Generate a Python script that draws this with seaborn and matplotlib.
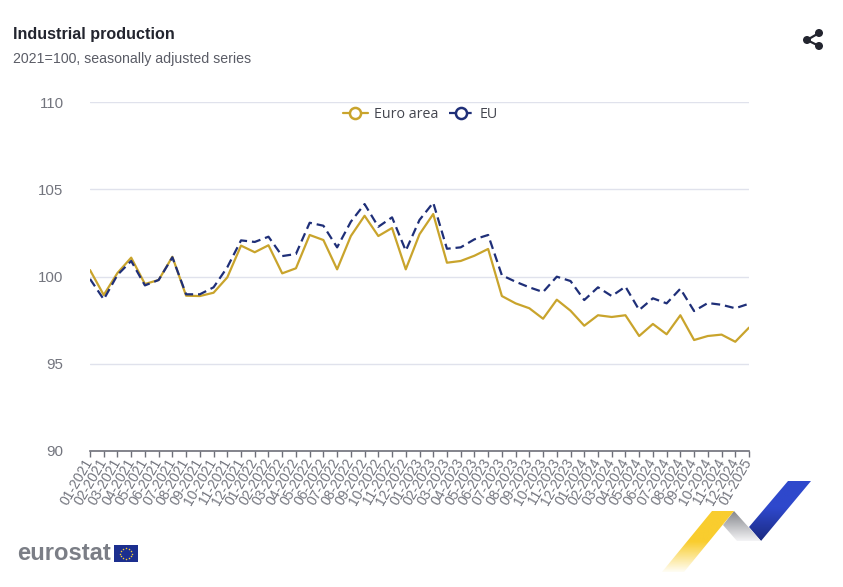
import matplotlib
matplotlib.use("Agg")
import matplotlib.pyplot as plt
from matplotlib.lines import Line2D
from matplotlib.patches import Circle, Polygon, Rectangle
import numpy as np
import pandas as pd
import seaborn as sns

W, H = 843, 587

months = [f"{m:02d}-{y}" for y in range(2021, 2025) for m in range(1, 13)] + ["01-2025"]

euro_area = [
    100.37, 98.94, 100.2, 101.08, 99.57, 99.8, 101.13, 98.9, 98.88, 99.07, 99.95, 101.77,
    101.39, 101.79, 100.18, 100.47, 102.38, 102.09, 100.41, 102.32, 103.48, 102.32, 102.78, 100.41,
    102.42, 103.58, 100.79, 100.89, 101.19, 101.58, 98.88, 98.46, 98.18, 97.58, 98.67, 98.04,
    97.18, 97.78, 97.68, 97.78, 96.59, 97.28, 96.69, 97.78, 96.36, 96.59, 96.67, 96.26,
    97.07,
]
eu = [
    99.86, 98.69, 100.09, 100.89, 99.49, 99.8, 101.1, 98.98, 98.98, 99.38, 100.53, 102.07,
    101.98, 102.28, 101.17, 101.29, 103.08, 102.91, 101.67, 103.14, 104.15, 102.85, 103.39, 101.48,
    103.24, 104.23, 101.59, 101.67, 102.13, 102.38, 100.07, 99.7, 99.38, 99.11, 99.99, 99.74,
    98.65, 99.38, 98.88, 99.42, 98.08, 98.75, 98.46, 99.3, 98.02, 98.48, 98.38, 98.18,
    98.44,
]
y_ticks = [90, 95, 100, 105, 110]

GOLD = "#c9a42c"
NAVY = "#1f2f78"
GRID = "#e0e2ec"
LABEL = "#73757e"

sns.set_theme(style="white")
plt.rcParams["font.family"] = ["Liberation Sans", "DejaVu Sans"]

df = pd.DataFrame({
    "month": months * 2,
    "value": euro_area + eu,
    "series": ["Euro area"] * len(months) + ["EU"] * len(months),
})

fig = plt.figure(figsize=(W / 100, H / 100), dpi=100, facecolor="white")
ax = fig.add_axes([90 / W, 1 - 451 / H, (749 - 90) / W, (451 - 102) / H])

sns.lineplot(
    data=df, x="month", y="value", hue="series", style="series",
    palette={"Euro area": GOLD, "EU": NAVY},
    dashes={"Euro area": "", "EU": (4, 2.2)},
    sort=False, linewidth=1.6, ax=ax, legend=False, zorder=3,
)

ax.set_xlim(0, len(months) - 1)
ax.set_ylim(90, 110)
ax.set_yticks(y_ticks)
ax.set_xlabel("")
ax.set_ylabel("")
ax.grid(axis="y", color=GRID, linewidth=1)
ax.grid(axis="x", visible=False)
for name in ["top", "left", "right"]:
    ax.spines[name].set_visible(False)
ax.spines["bottom"].set_color("#6e7079")
ax.spines["bottom"].set_linewidth(1.2)

ax.tick_params(axis="y", length=0, pad=19, labelsize=10.8, labelcolor=LABEL)
ax.tick_params(axis="x", length=4, width=1, color="#6e7079", pad=2, labelsize=10, labelcolor=LABEL, bottom=True)
ax.set_xticks(range(len(months)))
ax.set_xticklabels(months, rotation=60, ha="right", va="center", rotation_mode="anchor")

handles = [
    Line2D([], [], color=GOLD, lw=1.6, marker="o", ms=8, mfc="white", mew=1.8, label="Euro area"),
    Line2D([], [], color=NAVY, lw=1.6, ls=(0, (4, 2.2)), marker="o", ms=8, mfc="white", mew=1.8, label="EU"),
]
leg = ax.legend(
    handles=handles, loc="upper center", bbox_to_anchor=(0.5015, 1.006), ncol=2, frameon=False,
    handlelength=1.75, handletextpad=0.45, columnspacing=0.7, borderaxespad=0.1,
    prop={"family": "Open Sans", "size": 10.3}, labelcolor="#44464f",
)

# overlay in pixel coordinates for titles and logos
ov = fig.add_axes([0, 0, 1, 1], facecolor="none", zorder=5)
ov.set_xlim(0, W)
ov.set_ylim(H, 0)
ov.axis("off")

ov.text(13, 34, "Industrial production", fontsize=11.6, fontweight="bold", color="#23252f", va="center")
ov.text(13, 59.5, "2021=100, seasonally adjusted series", fontsize=10.2, color="#5a5c66", va="center")

# share icon
dots = [(807, 40), (819, 33), (819, 46)]
ov.plot([819, 807, 819], [33, 40, 46], color="#23252f", lw=1.6)
for x, y in dots:
    ov.add_patch(Circle((x, y), 4, color="#23252f", lw=0))

# eurostat wordmark and flag
ov.text(17, 553, "eurostat", fontsize=17.1, fontweight="bold", color="#7b7e86", va="center")
ov.add_patch(Rectangle((114, 545), 24, 17, color="#1c2f8f", lw=0))
angles = np.linspace(0, 2 * np.pi, 12, endpoint=False)
ov.scatter(126 + 5.6 * np.cos(angles), 553.5 + 5.6 * np.sin(angles), s=1.2, color="#f5cf3a", lw=0)


def gradient_poly(points, top, bottom, start=0.0, order=2):
    xs = [p[0] for p in points]
    ys = [p[1] for p in points]
    c0 = np.array(matplotlib.colors.to_rgb(top))
    c1 = np.array(matplotlib.colors.to_rgb(bottom))
    # keep the top colour until start, then fade
    t = np.clip((np.linspace(0, 1, 128) - start) / (1 - start), 0, 1)[:, None, None]
    img = c0 * (1 - t) + c1 * t
    im = ov.imshow(img, extent=[min(xs), max(xs), max(ys), min(ys)], aspect="auto", zorder=order, interpolation="bilinear")
    im.set_clip_path(Polygon(points, transform=ov.transData))


gradient_poly([(788, 481), (811, 481), (761, 541), (749, 527)], "#2e48cc", "#1b2a80", start=0.45)
gradient_poly([(734, 511), (761, 541), (737, 541), (723, 525)], "#85878c", "#f4f4f6")
gradient_poly([(712, 511), (734, 511), (684, 572), (662, 572)], "#f9cd2e", "#fffdf5", start=0.5)
ov.set_xlim(0, W)
ov.set_ylim(H, 0)

fig.savefig("out.png", dpi=100)
